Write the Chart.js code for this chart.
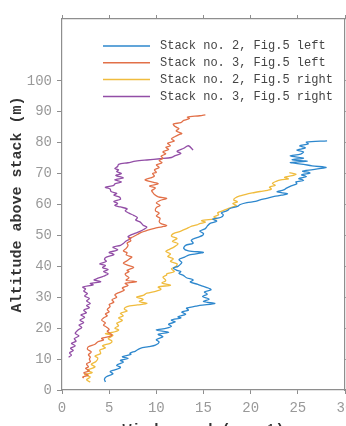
<!DOCTYPE html>
<html>
<head>
<meta charset="utf-8">
<script src="https://cdn.jsdelivr.net/npm/chart.js@4"></script>
<style>
  html, body { margin: 0; padding: 0; background: #fff; overflow: hidden; }
  canvas { display: block; }
</style>
</head>
<body>
<canvas id="myChart" width="370" height="450"></canvas>
<script>
// Stack no. 2, Fig.5 left (blue)
let s2LeftAlt = [2.6,3.5,4.3,5.2,6,6.5,7.3,8,9,9.6,10.2,10.8,11.5,11.9,12.6,13.5,14,14.5,15.5,16.3,17.2,18,18.7,19.4,20,20.6,21.3,22,22.6,23.3,23.7,24.5,25.2,25.8,26.5,27.1,27.4,28,28.6,29.4,30.2,31,31.7,32.4,33,33.6,34.2,34.9,35.6,36.3,37,37.7,38.3,38.7,39.4,40,40.8,41.3,42.2,43,43.7,44.5,45,45.8,46.8,47.5,48.4,49.3,50,50.6,51.4,52.2,53,53.9,54.6,55.3,55.8,56.6,57.3,58,58.7,59.4,60,60.6,61,61.5,62,62.6,63,63.5,64.1,64.7,65.3,66,66.7,67.3,67.8,68.4,69,69.6,70.2,70.8,71.3,72,72.5,73,73.6,74,74.5,75,75.7,76.3,77,77.6,78.3,79,79.6,80.2,80.6]
let s2LeftVal = [4.6,4.5,4.7,5.4,5.1,5.6,6.2,5.8,6.5,6.2,7.0,6.4,7.3,7.2,7.8,8.3,9.2,9.9,10.3,10.0,10.7,10.2,11.3,10.0,11.1,11.6,11.3,12.0,11.6,12.6,12.3,13.1,12.7,13.4,13.2,14.2,14.6,16.2,15.0,15.6,14.9,15.4,15.1,15.8,15.5,14.9,14.4,13.6,13.9,13.2,12.9,12.4,12.6,12.2,11.8,12.3,12.6,12.7,12.4,13.0,13.5,15.0,13.4,12.9,13.1,13.9,13.7,14.3,14.9,15.0,14.6,15.2,15.4,15.7,16.4,16.0,16.8,17.1,16.9,17.5,17.8,18.6,18.9,19.6,20.5,21.0,21.7,22.5,23.3,23.9,22.8,23.5,23.8,24.3,24.9,24.8,25.6,25.1,25.9,25.4,26.3,25.5,26.6,28.0,26.5,25.6,24.2,26.0,24.4,25.6,24.2,25.3,25.6,24.9,25.8,25.2,26.1,25.9,28.1]

// Stack no. 3, Fig.5 left (orange)
let s3LeftAlt = [3.9,4.2,4.8,5.5,6.2,7,7.5,8.4,9.2,10,10.6,11.4,12.3,13.2,14,14.8,15.6,16.2,16.7,17.3,17.8,18.3,19,19.6,20.4,21,21.7,22.6,23.3,24,24.6,25.3,26,27,27.7,28.4,29.2,30,30.8,31.6,32.3,33,33.8,34.5,35,35.5,36.3,37,37.6,38.3,38.7,39.7,40.3,41,41.8,42.5,43,43.7,44.4,45,45.8,46.8,47.5,48.3,49,49.5,50.3,51,51.6,52.3,52.8,53.2,53.8,54.5,55.5,56.3,57.2,58,59,59.7,60.5,61.3,62,62.5,63.2,64,64.5,65.3,66,66.7,67.3,68,68.6,69.2,70,70.4,71.2,72,72.8,73.5,74.2,75,75.6,76.4,77,77.8,78.5,79,79.8,80.5,81.2,82,82.6,83,83.8,84.5,85.2,86,86.5,87.2,87.8,88.3,88.7,89]
let s3LeftVal = [2.3,2.2,2.8,2.3,2.9,2.5,2.8,2.6,3.0,2.9,3.0,2.8,3.1,2.7,2.8,3.5,3.8,4.4,4.2,5.0,5.3,5.1,4.8,5.0,4.7,4.4,4.6,4.2,4.4,4.8,4.6,5.0,4.8,5.1,5.0,5.5,5.3,5.8,5.6,6.1,6.6,6.4,7.0,6.7,7.9,6.8,7.1,6.8,6.7,7.1,6.9,7.6,7.0,6.5,6.9,7.2,7.4,6.8,6.9,6.5,6.8,7.0,6.9,7.3,7.1,7.5,8.0,8.4,9.0,9.8,10.6,11.1,10.5,10.3,10.4,10.0,10.3,9.9,10.0,10.4,10.0,10.4,11.1,10.2,9.8,9.6,9.5,9.9,9.3,10.2,9.5,8.8,9.4,9.8,9.6,10.0,9.8,10.3,10.0,10.6,10.3,10.7,10.5,11.0,10.7,11.3,11.0,11.5,11.2,11.9,11.6,12.0,12.4,12.7,12.1,12.4,12.0,11.8,12.6,12.9,13.5,13.3,14.6,15.2]

// Stack no. 2, Fig.5 right (yellow)
let s2RightAlt = [2.6,3.3,4.2,5,5.6,6.4,7.5,8.3,9.2,10.3,11,11.8,12.9,13.6,14.3,15.1,15.8,16.6,17.7,18.2,18.6,19.4,20,20.8,21.6,22.5,23.3,24,24.8,25.5,26.2,27,27.5,28,28.6,29.3,30,30.6,31.3,32,32.6,33.3,33.9,34.6,35.4,36.5,37.2,37.6,38.3,39.2,40,40.8,41.6,42.4,43.2,44,44.8,45.5,46.3,47.3,48.1,49,49.8,50.6,51.4,52.2,52.8,53.4,53.8,54.3,54.8,55.4,56,56.7,57.3,58,58.7,59.3,59.7,60.3,60.9,61.5,62.2,62.8,63.3,63.8,64.2,64.6,65,65.6,66.2,66.8,67.5,68,68.3,68.8,69.3,69.8,70.3]
let s2RightVal = [3.0,2.6,3.0,2.4,3.2,2.7,3.5,3.1,3.6,3.8,3.5,4.1,4.0,4.6,4.3,5.1,5.3,4.9,5.4,4.6,5.3,6.0,5.6,6.0,5.8,6.4,6.0,6.5,6.2,6.9,6.6,6.9,8.0,9.0,8.2,8.6,7.9,8.6,9.0,10.0,10.5,10.2,11.5,10.6,11.0,10.7,11.1,11.1,11.9,11.6,12.1,12.2,11.5,11.8,11.2,11.5,11.0,11.4,11.9,12.3,11.7,12.2,11.6,11.8,12.6,13.2,13.6,14.3,14.6,15.2,14.8,16.4,16.1,16.6,16.5,17.1,17.6,18.2,18.5,18.1,18.6,18.2,18.4,18.9,19.5,20.3,21.0,21.8,22.2,22.0,22.6,22.3,22.7,23.2,24.0,23.6,24.4,24.8,24.1]

// Stack no. 3, Fig.5 right (purple)
let s3RightAlt = [10.6,11.3,12,12.8,13.5,14.3,15.1,15.8,16.6,17.5,18.3,19.4,20.2,21,21.8,22.6,23.5,24.3,25,25.8,26.6,27.3,28,28.8,29.6,30.4,31.2,32,32.7,33.3,34,34.5,35,35.6,36,36.8,37.6,38.3,38.9,39.6,40.3,40.8,41.6,42.3,43,43.8,44.5,45.3,46.2,46.8,47.4,48.2,49,49.6,50.5,51.2,52,52.7,53.3,54.3,55,55.7,56.5,57.2,58,58.6,59.2,59.7,60.3,61,61.7,62.4,63,63.6,64.2,65,65.6,66.2,66.7,67.3,68,68.6,69.4,70,70.6,71.2,71.6,72.3,73,73.5,74,74.4,74.8,75.2,75.8,76.5,77.2,78.2,79,77.6]
let s3RightVal = [0.7,1.0,0.8,1.2,0.9,1.4,1.0,1.5,1.3,1.8,1.4,1.7,2.1,1.8,2.3,1.9,2.4,2.0,2.6,2.3,2.9,2.6,3.0,2.6,2.9,2.4,2.7,2.3,2.5,2.2,3.3,3.0,4.1,3.4,3.7,4.4,4.9,4.4,4.9,4.3,4.6,4.0,4.7,4.5,4.7,5.5,5.0,5.9,5.4,6.2,6.5,6.8,7.3,7.0,7.6,8.2,8.7,9.0,8.6,8.3,7.8,8.0,7.6,7.1,6.7,6.9,6.2,5.6,5.9,5.5,6.2,6.1,5.5,5.8,5.2,5.1,4.6,5.5,5.6,6.3,5.6,6.5,5.7,6.3,5.8,6.0,5.6,5.9,6.0,7.0,7.8,9.0,10.4,11.6,12.0,12.6,12.2,12.9,13.4,13.9]

let seriesLabels = ['Stack no. 2, Fig.5 left', 'Stack no. 3, Fig.5 left', 'Stack no. 2, Fig.5 right', 'Stack no. 3, Fig.5 right']
let seriesColors = ['rgb(45,135,205)', 'rgb(226,112,72)', 'rgb(240,188,62)', 'rgb(146,78,166)']
let xTicks = [0, 5, 10, 15, 20, 25, 30]

const pairs = (vals, alts) => vals.map((v, i) => ({x: v, y: alts[i]}))
const allVals = [s2LeftVal, s3LeftVal, s2RightVal, s3RightVal]
const allAlts = [s2LeftAlt, s3LeftAlt, s2RightAlt, s3RightAlt]

const mono = '"Liberation Mono", "DejaVu Sans Mono", monospace'
const axisGray = '#8e8e8e'

// legend drawn inside the plot, like the original figure
const legendBox = {
  id: 'legendBox',
  afterDraw(chart) {
    const c = chart.ctx
    c.save()
    c.font = '12px ' + mono
    c.textBaseline = 'middle'
    chart.data.datasets.forEach((ds, i) => {
      const y = 46 + i * 16.8
      c.strokeStyle = ds.borderColor
      c.lineWidth = 1.5
      c.beginPath()
      c.moveTo(103, y)
      c.lineTo(150, y)
      c.stroke()
      c.fillStyle = '#444'
      c.fillText(ds.label, 160, y)
    })
    c.restore()
  }
}

const onlyTo100 = s => { s.ticks = s.ticks.filter(t => t.value <= 100) }

const ctx = document.getElementById('myChart')

new Chart(ctx, {
  type: 'scatter',
  data: {
    datasets: seriesLabels.map((lab, i) => ({
      label: lab,
      data: pairs(allVals[i], allAlts[i]),
      showLine: true,
      borderColor: seriesColors[i],
      backgroundColor: seriesColors[i],
      borderWidth: 1.3,
      pointRadius: 0,
      tension: 0.3
    }))
  },
  options: {
    responsive: false,
    animation: false,
    devicePixelRatio: 1,
    layout: { padding: 0 },
    plugins: { legend: { display: false }, tooltip: { enabled: false } },
    scales: {
      x: {
        type: 'linear', position: 'bottom', min: 0, max: 30,
        afterBuildTicks: s => { s.ticks = xTicks.map(v => ({value: v})) },
        afterFit: s => { s.height = 60 },
        ticks: { color: '#999', font: { family: mono, size: 14 }, padding: 6, maxRotation: 0 },
        grid: { drawOnChartArea: false, tickLength: 4, color: axisGray },
        border: { color: axisGray, width: 1.2 },
        title: { display: true, text: 'Wind speed (m s⁻¹)', color: '#333', font: { family: mono, size: 15, weight: 'bold' }, padding: { bottom: 11 } }
      },
      x2: {
        type: 'linear', position: 'top', min: 0, max: 30,
        afterBuildTicks: s => { s.ticks = xTicks.map(v => ({value: v})) },
        afterFit: s => { s.height = 19 },
        ticks: { display: false },
        grid: { drawOnChartArea: false, tickLength: 4, color: axisGray },
        border: { color: axisGray, width: 1.2 }
      },
      y: {
        type: 'linear', position: 'left', min: 0, max: 120,
        ticks: { stepSize: 10, color: '#999', font: { family: mono, size: 14 }, padding: 5 },
        afterBuildTicks: onlyTo100,
        afterFit: s => { s.width = 62 },
        grid: { drawOnChartArea: false, tickLength: 5, color: axisGray },
        border: { color: axisGray, width: 1.2 },
        title: { display: true, text: 'Altitude above stack (m)', color: '#333', font: { family: mono, size: 15, weight: 'bold' }, padding: { top: 8 } }
      },
      y2: {
        type: 'linear', position: 'right', min: 0, max: 120,
        ticks: { display: false, stepSize: 10 },
        afterBuildTicks: onlyTo100,
        afterFit: s => { s.width = 25 },
        grid: { drawOnChartArea: false, tickLength: 4, color: axisGray },
        border: { color: axisGray, width: 1.2 }
      }
    }
  },
  plugins: [legendBox]
})
</script>
</body>
</html>
